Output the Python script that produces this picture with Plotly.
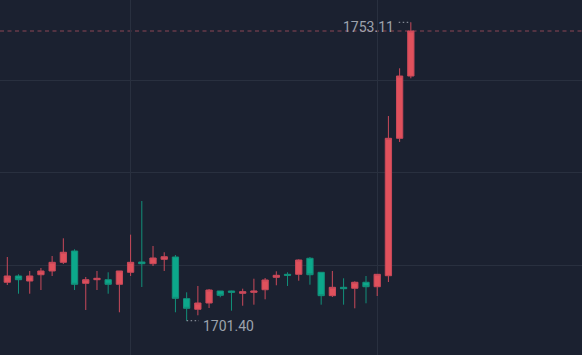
import plotly.graph_objects as go

# Candle index (time slots); -1 is the partially visible candle at the left edge
idx = list(range(-1, 37))
opens = [1707.00, 1708.06, 1709.15, 1708.28, 1709.37, 1710.02, 1711.52, 1713.48, 1707.88, 1708.51,
         1708.51, 1707.71, 1709.79, 1711.57, 1711.28, 1712.04, 1712.44, 1705.22, 1703.38, 1704.47,
         1706.55, 1706.55, 1706.15, 1706.32, 1706.77, 1708.92, 1709.44, 1709.44, 1712.22, 1709.79,
         1705.74, 1707.19, 1707.02, 1708.06, 1707.29, 1709.20, 1733.01, 1743.80]
highs = [1708.50, 1712.44, 1709.44, 1710.02, 1710.53, 1712.61, 1715.68, 1713.78, 1708.98, 1710.02,
         1709.79, 1710.02, 1716.31, 1722.14, 1714.35, 1713.26, 1712.79, 1706.32, 1707.42, 1706.90,
         1706.55, 1706.60, 1706.95, 1708.68, 1708.80, 1709.96, 1709.79, 1712.04, 1712.44, 1709.79,
         1710.02, 1708.75, 1708.23, 1709.15, 1709.50, 1736.87, 1745.14, 1753.11]
lows = [1706.80, 1707.59, 1706.08, 1706.08, 1706.72, 1709.15, 1711.23, 1706.72, 1703.26, 1706.72,
        1706.08, 1702.86, 1709.15, 1707.24, 1710.88, 1710.02, 1702.86, 1701.40, 1702.34, 1703.60,
        1705.46, 1703.14, 1704.00, 1704.18, 1705.11, 1707.54, 1707.42, 1708.33, 1707.64, 1704.18,
        1705.51, 1704.18, 1703.55, 1704.42, 1705.68, 1708.11, 1732.37, 1743.41]
closes = [1708.10, 1709.15, 1708.51, 1709.15, 1710.02, 1711.52, 1713.26, 1707.71, 1708.51, 1708.75,
          1707.71, 1710.02, 1711.52, 1711.28, 1712.27, 1712.49, 1705.28, 1703.55, 1704.47, 1706.72,
          1705.80, 1706.32, 1706.43, 1706.55, 1708.46, 1709.27, 1709.27, 1711.92, 1709.37, 1705.74,
          1707.19, 1706.95, 1708.06, 1707.29, 1709.44, 1733.01, 1743.80, 1751.60]

x_grid = [11, 33]
y_grid = [1711, 1727, 1743]

BG = "#1b2130"
GRID = "#29303f"
UP_FILL = "#e0515c"
UP_LINE = "#c9495a"
DN_FILL = "#0ca88b"
DN_LINE = "#12907a"
TXT = "#9da3ad"

fig = go.Figure(go.Candlestick(
    x=idx, open=opens, high=highs, low=lows, close=closes,
    increasing=dict(fillcolor=UP_FILL, line=dict(color=UP_LINE, width=1)),
    decreasing=dict(fillcolor=DN_FILL, line=dict(color=DN_LINE, width=1)),
    hoverinfo="skip", showlegend=False,
))

# extremes
hi_i = max(range(len(highs)), key=lambda k: highs[k])
lo_i = min(range(len(lows)), key=lambda k: lows[k])
hi_x, hi_y = idx[hi_i], highs[hi_i]
lo_x, lo_y = idx[lo_i], lows[lo_i]
last_close = closes[-1]

shapes = [
    dict(type="line", xref="paper", x0=0, x1=1, yref="y", y0=last_close, y1=last_close,
         line=dict(color="#8c4654", width=1, dash="4px,3.5px"), layer="below"),
    dict(type="line", xref="x", x0=hi_x - 1.08, x1=hi_x, yref="y", y0=hi_y, y1=hi_y,
         line=dict(color=TXT, width=1, dash="1.5px,2.5px")),
    dict(type="line", xref="x", x0=lo_x, x1=lo_x + 1.1, yref="y", y0=lo_y, y1=lo_y,
         line=dict(color=TXT, width=1, dash="1.5px,2.5px")),
]

annotations = [
    dict(x=hi_x, y=hi_y, xref="x", yref="y", text=f"{hi_y:.2f}", showarrow=False,
         xanchor="right", yanchor="middle", xshift=-15, yshift=-5,
         font=dict(family="Roboto", size=14, color=TXT)),
    dict(x=lo_x, y=lo_y, xref="x", yref="y", text=f"{lo_y:.2f}", showarrow=False,
         xanchor="left", yanchor="middle", xshift=14, yshift=-5.5,
         font=dict(family="Roboto", size=14, color=TXT)),
]

fig.update_layout(
    width=582, height=355,
    margin=dict(l=0, r=0, t=0, b=0),
    paper_bgcolor=BG, plot_bgcolor=BG,
    boxgap=0.2,
    shapes=shapes, annotations=annotations,
    xaxis=dict(range=[-0.651, 51.27], tickvals=x_grid, showticklabels=False,
               showgrid=True, gridcolor=GRID, gridwidth=1, zeroline=False,
               rangeslider=dict(visible=False), fixedrange=True, showline=False),
    yaxis=dict(range=[1695.46, 1756.974], tickvals=y_grid, showticklabels=False,
               showgrid=True, gridcolor=GRID, gridwidth=1, zeroline=False,
               fixedrange=True, showline=False),
    hovermode=False,
)

fig.write_html("out.html", config={"displayModeBar": False})
